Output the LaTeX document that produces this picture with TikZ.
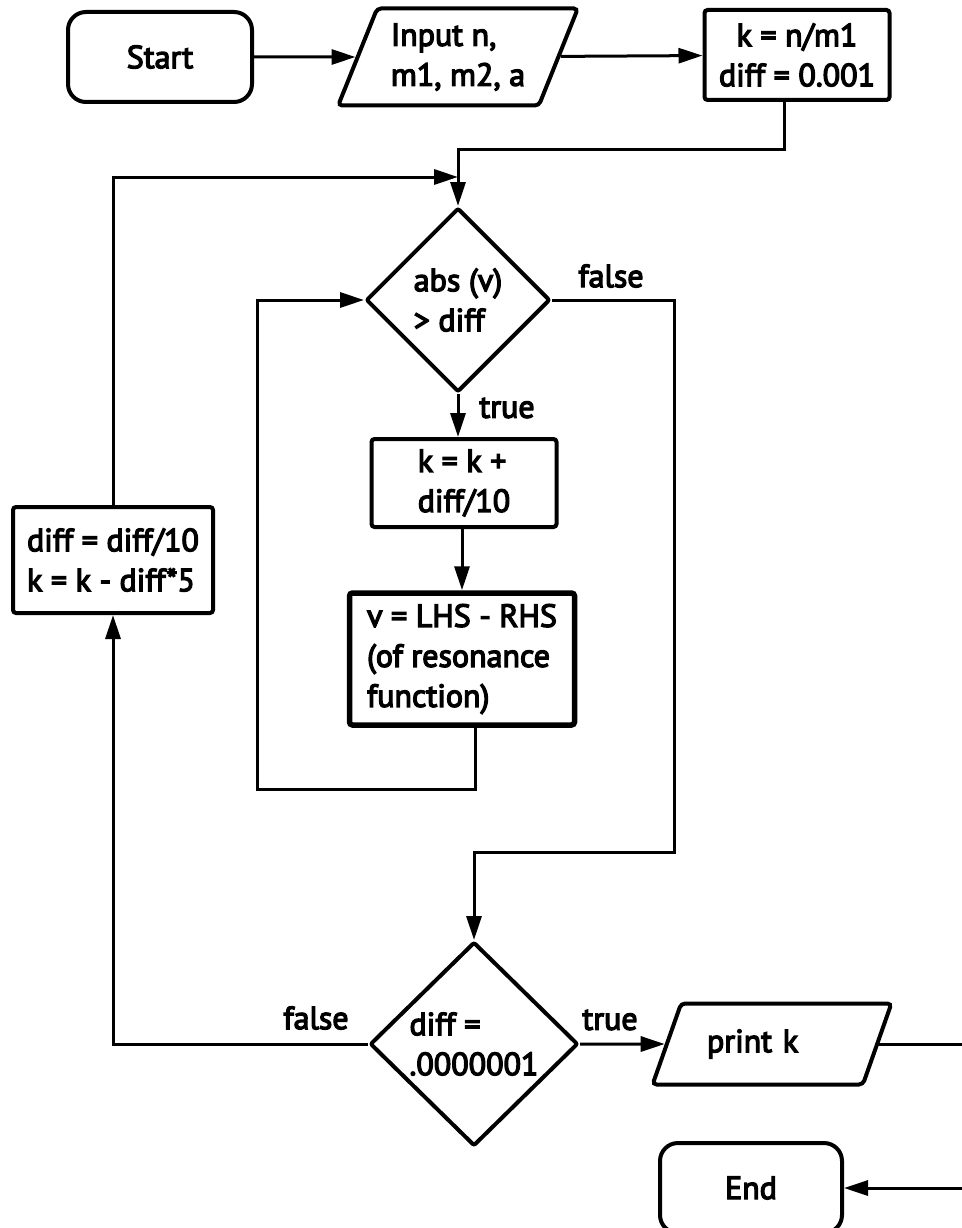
\documentclass[tikz,border=0pt]{standalone}
\usepackage{fontspec}
\setmainfont{PT Sans}
\newfontfamily\flowfont[FakeBold=4]{PT Sans}
\usetikzlibrary{shapes.geometric,arrows.meta}

\tikzset{
  box/.style={draw, line width=4pt, rounded corners=3pt, inner sep=6pt, font=\flowfont\fontsize{32}{40}\selectfont},
  term/.style={box, rounded corners=18pt, minimum width=184pt, minimum height=90pt},
  io/.style={box, trapezium, trapezium stretches=true, rounded corners=4pt},
  test/.style={box, diamond, rounded corners=2pt, inner sep=0pt},
  lbl/.style={font=\flowfont\fontsize{32}{40}\selectfont},
  line/.style={line width=3pt},
  flow/.style={line, -{Triangle[length=24pt,width=15pt]}}
}

\begin{document}
\begin{tikzpicture}[x=1pt,y=-1pt]
\useasboundingbox (0,0) rectangle (961,1228);

\node[term] (start) at (160,57) {Start};
\node[io, trapezium left angle=66, trapezium right angle=114, minimum width=240pt, minimum height=97pt, align=left] (input) at (458,57) {Input n,\\m1, m2, a};
\node[box, minimum width=185pt, minimum height=90pt, align=center] (kinit) at (797,55) {k = n/m1\\diff = 0.001};
\node[test, minimum width=184pt, minimum height=184pt, align=left] (test1) at (458,300) {abs (v)\\> diff};
\node[box, minimum width=185pt, minimum height=88pt, align=left] (kstep) at (464,483) {k = k +\\diff/10};
\node[box, line width=5.5pt, minimum width=225pt, minimum height=132pt, align=left] (vcalc) at (462,659) {v = LHS - RHS\\(of resonance\\function)};
\node[box, minimum width=200pt, minimum height=106pt, align=left] (dstep) at (113,560) {diff = diff/10\\k = k - diff*5};
\node[test, minimum width=208pt, minimum height=204pt, align=left] (test2) at (474,1044) {diff =\\.0000001};
\node[io, trapezium left angle=61.5, trapezium right angle=118.5, minimum width=239pt, minimum height=81pt, text width=130pt, align=left] (printk) at (772,1044) {print k};
\node[term, minimum width=182pt] (stop) at (751,1188) {End};

\coordinate (merge) at (458,177);

\draw[flow] (start) -- (input);
\draw[flow] (input) -- (kinit);
\draw[flow] ([xshift=-13pt]kinit.south) -- ++(0,47) -| (test1.north);
\draw[flow] (dstep.north) |- (merge);
\draw[flow] (test1.south) -- (test1.south |- kstep.north);
\draw[flow] (kstep.south -| vcalc) -- (vcalc);
\draw[flow] ([xshift=13pt]vcalc.south) -- ++(0,62) -| ([xshift=-107pt]test1.west) -- (test1.west);
\draw[flow] (test1.east) -- ++(122,0) -- ++(0,552) -| (test2.north);
\draw[flow] (test2.west) -| (dstep.south);
\draw[flow] (test2.east) -- (printk.west);
\draw[flow] (printk.east) -- ++(110,0) |- (stop.east);

\node[lbl] (f1) at (611,276) {false};
\node[lbl] (t1) at (507,408) {true};
\node[lbl] (f2) at (316,1018) {false};
\node[lbl] (t2) at (610,1020) {true};
\end{tikzpicture}
\end{document}
